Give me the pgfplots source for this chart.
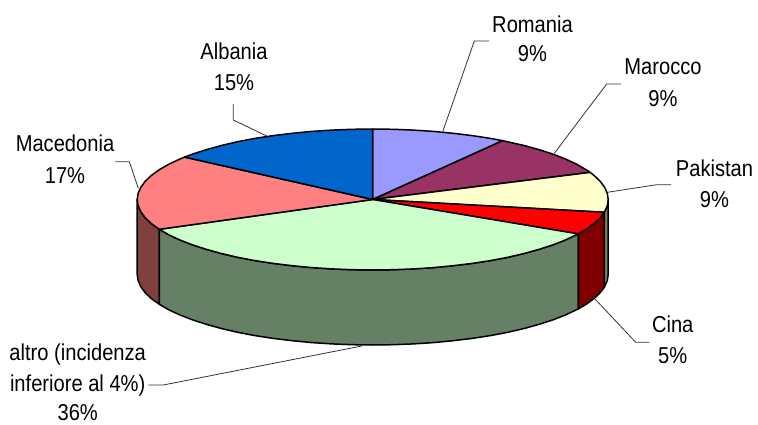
\documentclass[border=0pt]{standalone}
\usepackage{pgfplots}
\usepackage{fontspec}
\setmainfont[FakeStretch=0.875]{Liberation Sans}
\pgfplotsset{compat=1.18}
\definecolor{cAlb}{HTML}{0066CC}
\definecolor{cRom}{HTML}{9999FF}
\definecolor{cMar}{HTML}{993366}
\definecolor{cPak}{HTML}{FFFFCC}
\definecolor{cCin}{HTML}{FF0000}
\definecolor{cAlt}{HTML}{CCFFCC}
\definecolor{cMac}{HTML}{FF8080}
\definecolor{sAlt}{HTML}{668066}
\definecolor{sCin}{HTML}{800000}
\definecolor{sPak}{HTML}{808066}
\definecolor{sMac}{HTML}{804040}
\definecolor{leader}{HTML}{333333}
\tikzset{
  slice/.style={draw=black, line width=1.5bp, line join=round},
  lead/.style={draw=leader, line width=0.8bp, line join=round},
  lab/.style={anchor=base, inner sep=0pt, font=\fontsize{23bp}{26bp}\selectfont, text=black},
}
\begin{document}
\begin{tikzpicture}
\begin{axis}[
  hide axis, scale only axis, width=758bp, height=425bp,
  xmin=0, xmax=758, ymin=0, ymax=425, y dir=reverse, clip=false,
]
% keeps the page at the full frame
\addplot[draw=none] coordinates {(0,0)(758,425)};
% side walls
\addplot[slice, fill=sMac] coordinates {(137.2,199.5)(138.1,205.6)(140.8,211.7)(145.2,217.7)(151.4,223.6)(159.3,229.3)(159.3,304.3)(151.4,298.6)(145.2,292.7)(140.8,286.7)(138.1,280.6)(137.2,274.5)} --cycle;
\addplot[slice, fill=sAlt] coordinates {(159.3,229.3)(168.8,234.8)(179.8,239.9)(192.3,244.8)(206.2,249.3)(221.3,253.5)(237.6,257.3)(254.9,260.6)(273.2,263.4)(292.2,265.7)(311.8,267.6)(331.8,268.9)(352.2,269.7)(372.7,270)(393.2,269.7)(413.6,268.9)(433.6,267.6)(453.2,265.7)(472.2,263.4)(490.5,260.6)(507.8,257.3)(524.1,253.5)(539.2,249.3)(553.1,244.8)(565.6,239.9)(578.3,233.9)
(578.3,308.9)(565.6,314.9)(553.1,319.8)(539.2,324.3)(524.1,328.5)(507.8,332.3)(490.5,335.6)(472.2,338.4)(453.2,340.7)(433.6,342.6)(413.6,343.9)(393.2,344.7)(372.7,345)(352.2,344.7)(331.8,343.9)(311.8,342.6)(292.2,340.7)(273.2,338.4)(254.9,335.6)(237.6,332.3)(221.3,328.5)(206.2,324.3)(192.3,319.8)(179.8,314.9)(168.8,309.8)(159.3,304.3)} --cycle;
\addplot[slice, fill=sCin] coordinates {(578.3,233.9)(586.1,229.3)(594.0,223.6)(600.2,217.7)(604.3,212.3)(604.3,287.3)(600.2,292.7)(594.0,298.6)(586.1,304.3)(578.3,308.9)} --cycle;
\addplot[slice, fill=sPak] coordinates {(604.3,212.3)(607.3,205.6)(608.2,199.5)(608.2,274.5)(607.3,280.6)(604.3,287.3)} --cycle;
% top slices
\addplot[slice, fill=cRom] coordinates {(372.7,199.5)(372.7,129.0)(393.2,129.3)(413.6,130.1)(433.6,131.4)(453.2,133.3)(472.2,135.6)(490.5,138.4)(502.7,140.7)} --cycle;
\addplot[slice, fill=cMar] coordinates {(372.7,199.5)(502.7,140.7)(524.1,145.5)(539.2,149.7)(553.1,154.2)(565.6,159.1)(576.6,164.2)(586.1,169.7)(590.1,172.4)} --cycle;
\addplot[slice, fill=cPak] coordinates {(372.7,199.5)(590.1,172.4)(594.0,175.4)(600.2,181.3)(604.6,187.3)(607.3,193.4)(608.2,199.5)(607.3,205.6)(604.3,212.3)} --cycle;
\addplot[slice, fill=cCin] coordinates {(372.7,199.5)(604.3,212.3)(600.2,217.7)(594.0,223.6)(586.1,229.3)(578.3,233.9)} --cycle;
\addplot[slice, fill=cAlt] coordinates {(372.7,199.5)(578.3,233.9)(565.6,239.9)(553.1,244.8)(539.2,249.3)(524.1,253.5)(507.8,257.3)(490.5,260.6)(472.2,263.4)(453.2,265.7)(433.6,267.6)(413.6,268.9)(393.2,269.7)(372.7,270)(352.2,269.7)(331.8,268.9)(311.8,267.6)(292.2,265.7)(273.2,263.4)(254.9,260.6)(237.6,257.3)(221.3,253.5)(206.2,249.3)(192.3,244.8)(179.8,239.9)(168.8,234.8)(159.3,229.3)} --cycle;
\addplot[slice, fill=cMac] coordinates {(372.7,199.5)(159.3,229.3)(151.4,223.6)(145.2,217.7)(140.8,211.7)(138.1,205.6)(137.2,199.5)(138.1,193.4)(140.8,187.3)(145.2,181.3)(151.4,175.4)(159.3,169.7)(168.8,164.2)(179.8,159.1)(184.6,157.1)} --cycle;
\addplot[slice, fill=cAlb] coordinates {(372.7,199.5)(184.6,157.1)(192.3,154.2)(206.2,149.7)(221.3,145.5)(237.6,141.7)(254.9,138.4)(273.2,135.6)(292.2,133.3)(311.8,131.4)(331.8,130.1)(352.2,129.3)(372.7,129.0)} --cycle;
% leader lines
\addplot[lead] coordinates {(442.7,131.7)(474.3,41)(489,41)};
\addplot[lead] coordinates {(554.3,153.3)(606.7,84)(621,84)};
\addplot[lead] coordinates {(266.7,136)(233.3,120)(233.3,104)};
\addplot[lead] coordinates {(138.3,188.3)(129.3,161.7)(115.3,161.7)};
\addplot[lead] coordinates {(607.3,192.3)(656.7,184.7)(671,184.7)};
\addplot[lead] coordinates {(595,299)(635.7,342.3)(649.3,342.3)};
\addplot[lead] coordinates {(361.7,346)(163.3,385)(148.3,385)};
% labels
\node[lab] at (axis cs:532.5,32.3) {Romania};
\node[lab] at (axis cs:532.5,62) {9\%};
\node[lab] at (axis cs:663,75) {Marocco};
\node[lab] at (axis cs:663,106) {9\%};
\node[lab] at (axis cs:234,60) {Albania};
\node[lab] at (axis cs:234,91) {15\%};
\node[lab] at (axis cs:65,151.7) {Macedonia};
\node[lab] at (axis cs:65,183) {17\%};
\node[lab] at (axis cs:714.5,176) {Pakistan};
\node[lab] at (axis cs:714.5,207) {9\%};
\node[lab] at (axis cs:672.7,332.7) {Cina};
\node[lab] at (axis cs:672.7,363) {5\%};
\node[lab] at (axis cs:77.7,360.7) {altro (incidenza};
\node[lab] at (axis cs:77.7,391) {inferiore al 4\%)};
\node[lab] at (axis cs:77.7,420.5) {36\%};
\end{axis}
\end{tikzpicture}
\end{document}
